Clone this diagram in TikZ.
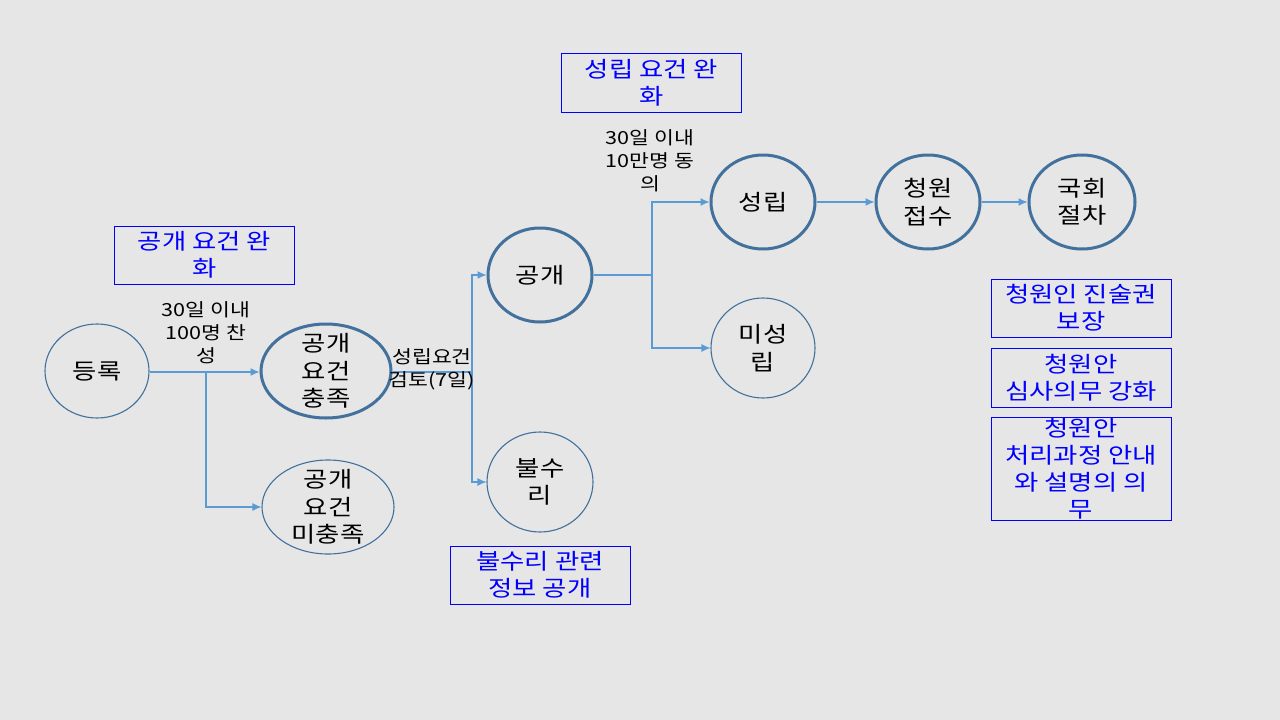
\documentclass[tikz,border=0pt]{standalone}
\usepackage{fontspec}
\setmainfont[FakeStretch=1.2]{Noto Sans CJK KR}
\usetikzlibrary{shapes.geometric,arrows.meta}
\definecolor{bg}{HTML}{E7E6E6}
\definecolor{ellc}{HTML}{41719C}
\definecolor{linec}{HTML}{5B9BD5}
\definecolor{boxblue}{HTML}{0000FF}
\tikzset{
  ell/.style={ellipse, draw=ellc, inner sep=0pt},
  thickell/.style={ell, line width=3pt},
  thinell/.style={ell, line width=1.1pt},
  ntext/.style={font={\fontsize{22}{27.5}\selectfont}, align=center, text=black},
  etext/.style={font={\fontsize{18}{23}\selectfont}, align=center, text=black, inner sep=0pt},
  bluebox/.style={draw=boxblue, line width=1pt, text=boxblue, minimum width=180pt, inner sep=0pt, align=center, font={\fontsize{22}{27}\selectfont}},
  conn/.style={draw=linec, line width=1.1pt, -{Latex[length=9pt,width=8pt]}},
  plain/.style={draw=linec, line width=1.1pt},
}
\begin{document}
\begin{tikzpicture}[x=1pt,y=-1pt]
\fill[bg] (0,0) rectangle (1280,720);
\useasboundingbox (0,0) rectangle (1280,720);

% ellipses
\node[thinell, minimum width=104pt, minimum height=94pt, label={[ntext]center:등록}] (reg) at (97,371) {};
\node[thickell, minimum width=130pt, minimum height=94pt, label={[ntext]center:{공개\\요건\\충족}}] (ok) at (326,371) {};
\node[thinell, minimum width=132pt, minimum height=94pt, label={[ntext]center:{공개\\요건\\미충족}}] (nok) at (328,507) {};
\node[thickell, minimum width=104pt, minimum height=94pt, label={[ntext]center:공개}] (pub) at (540,275) {};
\node[thinell, minimum width=106pt, minimum height=100pt, label={[ntext]center:{불수\\리}}] (rej) at (540,482) {};
\node[thickell, minimum width=104pt, minimum height=94pt, label={[ntext]center:성립}] (est) at (763,202) {};
\node[thinell, minimum width=104pt, minimum height=100pt, label={[ntext]center:{미성\\립}}] (nest) at (763,348) {};
\node[thickell, minimum width=104pt, minimum height=94pt, label={[ntext]center:{청원\\접수}}] (rec) at (928,202) {};
\node[thickell, minimum width=106pt, minimum height=94pt, label={[ntext]center:{국회\\절차}}] (nat) at (1082,202) {};

% blue boxes
\node[bluebox, minimum height=58pt] (b1) at (204.5,255) {공개 요건 완\\화};
\node[bluebox, minimum height=59pt] (b2) at (651.5,82.5) {성립 요건 완\\화};
\node[bluebox, minimum height=58pt] (b3) at (540,575) {불수리 관련\\정보 공개};
\node[bluebox, minimum height=58pt] (b4) at (1081,308) {청원인 진술권\\보장};
\node[bluebox, minimum height=59pt] (b5) at (1081,377.5) {청원안\\심사의무 강화};
\node[bluebox, minimum height=103pt] (b6) at (1081,468.5) {청원안\\처리과정 안내\\와 설명의 의\\무};

% connectors
\coordinate (j1) at (206,372);
\coordinate (j2) at (472,372);
\coordinate (j3) at (652,275);
\draw[conn] (reg.east |- j1) -- (ok.west |- j1);
\draw[conn] (j1) |- (nok.west);
\draw[plain] (ok.east |- j2) -- (j2);
\draw[conn] (j2) |- (pub.west);
\draw[conn] (j2) |- (rej.west);
\draw[plain] (pub.east) -- (j3);
\draw[conn] (j3) |- (est.west);
\draw[conn] (j3) |- (nest.west);
\draw[conn] (est.east) -- (rec.west);
\draw[conn] (rec.east) -- (nat.west);

% edge labels
\node[etext] (l1) at (206,333) {30일 이내\\100명 찬\\성};
\node[etext] (l2) at (432,369) {성립요건\\검토(7일)};
\node[etext] (l3) at (650,161) {30일 이내\\10만명 동\\의};
\end{tikzpicture}
\end{document}
